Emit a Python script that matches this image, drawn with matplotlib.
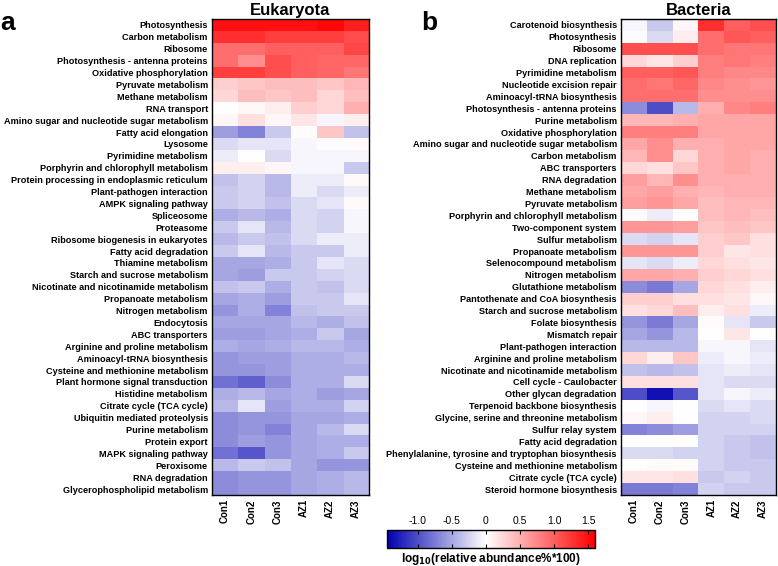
import numpy as np
import matplotlib
matplotlib.use("Agg")
import matplotlib.pyplot as plt
from matplotlib.colors import LinearSegmentedColormap

plt.rcParams['font.family'] = ['Liberation Sans', 'DejaVu Sans']

samples = ["Con1", "Con2", "Con3", "AZ1", "AZ2", "AZ3"]

euk_pathways = [
    "Photosynthesis", "Carbon metabolism", "Ribosome",
    "Photosynthesis - antenna proteins", "Oxidative phosphorylation",
    "Pyruvate metabolism", "Methane metabolism", "RNA transport",
    "Amino sugar and nucleotide sugar metabolism", "Fatty acid elongation",
    "Lysosome", "Pyrimidine metabolism", "Porphyrin and chlorophyll metabolism",
    "Protein processing in endoplasmic reticulum", "Plant-pathogen interaction",
    "AMPK signaling pathway", "Spliceosome", "Proteasome",
    "Ribosome biogenesis in eukaryotes", "Fatty acid degradation",
    "Thiamine metabolism", "Starch and sucrose metabolism",
    "Nicotinate and nicotinamide metabolism", "Propanoate metabolism",
    "Nitrogen metabolism", "Endocytosis", "ABC transporters",
    "Arginine and proline metabolism", "Aminoacyl-tRNA biosynthesis",
    "Cysteine and methionine metabolism", "Plant hormone signal transduction",
    "Histidine metabolism", "Citrate cycle (TCA cycle)",
    "Ubiquitin mediated proteolysis", "Purine metabolism", "Protein export",
    "MAPK signaling pathway", "Peroxisome", "RNA degradation",
    "Glycerophospholipid metabolism",
]

# log10(relative abundance%*100), columns Con1..AZ3
euk_values = [
    [1.50, 1.50, 1.50, 1.50, 1.55, 1.40],
    [1.30, 1.30, 1.20, 1.20, 1.20, 1.12],
    [0.90, 0.90, 1.00, 1.00, 1.00, 1.15],
    [0.90, 0.70, 1.10, 1.00, 0.95, 0.95],
    [1.20, 1.20, 1.10, 1.00, 0.95, 0.85],
    [0.30, 0.35, 0.40, 0.40, 0.35, 0.45],
    [0.25, 0.40, 0.35, 0.40, 0.25, 0.40],
    [0.00, 0.05, 0.10, 0.30, 0.25, 0.50],
    [0.05, 0.20, 0.05, 0.15, -0.05, 0.10],
    [-0.55, -0.70, -0.30, 0.02, 0.35, -0.35],
    [-0.20, -0.15, -0.15, -0.05, -0.02, 0.02],
    [-0.10, 0.00, -0.20, -0.05, -0.05, -0.05],
    [0.10, 0.10, 0.05, -0.05, -0.05, -0.30],
    [-0.35, -0.25, -0.40, -0.10, -0.10, 0.03],
    [-0.30, -0.25, -0.40, -0.10, -0.20, -0.10],
    [-0.30, -0.25, -0.35, -0.20, -0.15, 0.03],
    [-0.45, -0.40, -0.45, -0.20, -0.25, -0.05],
    [-0.30, -0.15, -0.40, -0.20, -0.25, -0.05],
    [-0.40, -0.30, -0.35, -0.20, -0.10, -0.10],
    [-0.30, -0.15, -0.40, -0.30, -0.30, -0.10],
    [-0.50, -0.50, -0.45, -0.30, -0.15, -0.20],
    [-0.50, -0.55, -0.30, -0.30, -0.25, -0.20],
    [-0.35, -0.30, -0.45, -0.30, -0.35, -0.20],
    [-0.50, -0.45, -0.55, -0.30, -0.30, -0.15],
    [-0.60, -0.45, -0.70, -0.35, -0.30, -0.30],
    [-0.50, -0.50, -0.50, -0.40, -0.45, -0.35],
    [-0.55, -0.55, -0.50, -0.45, -0.30, -0.50],
    [-0.45, -0.50, -0.45, -0.40, -0.40, -0.45],
    [-0.60, -0.55, -0.55, -0.45, -0.45, -0.40],
    [-0.60, -0.60, -0.55, -0.45, -0.45, -0.45],
    [-0.80, -0.90, -0.65, -0.45, -0.45, -0.20],
    [-0.45, -0.40, -0.50, -0.45, -0.55, -0.50],
    [-0.40, -0.15, -0.55, -0.45, -0.45, -0.25],
    [-0.65, -0.60, -0.60, -0.50, -0.50, -0.45],
    [-0.65, -0.60, -0.70, -0.50, -0.40, -0.20],
    [-0.65, -0.55, -0.60, -0.50, -0.45, -0.45],
    [-0.80, -0.95, -0.60, -0.50, -0.45, -0.30],
    [-0.40, -0.30, -0.35, -0.50, -0.60, -0.60],
    [-0.65, -0.60, -0.60, -0.50, -0.45, -0.40],
    [-0.65, -0.60, -0.60, -0.50, -0.45, -0.40],
]

bac_pathways = [
    "Carotenoid biosynthesis", "Photosynthesis", "Ribosome", "DNA replication",
    "Pyrimidine metabolism", "Nucleotide excision repair",
    "Aminoacyl-tRNA biosynthesis", "Photosynthesis - antenna proteins",
    "Purine metabolism", "Oxidative phosphorylation",
    "Amino sugar and nucleotide sugar metabolism", "Carbon metabolism",
    "ABC transporters", "RNA degradation", "Methane metabolism",
    "Pyruvate metabolism", "Porphyrin and chlorophyll metabolism",
    "Two-component system", "Sulfur metabolism", "Propanoate metabolism",
    "Selenocompound metabolism", "Nitrogen metabolism",
    "Glutathione metabolism", "Pantothenate and CoA biosynthesis",
    "Starch and sucrose metabolism", "Folate biosynthesis", "Mismatch repair",
    "Plant-pathogen interaction", "Arginine and proline metabolism",
    "Nicotinate and nicotinamide metabolism", "Cell cycle - Caulobacter",
    "Other glycan degradation", "Terpenoid backbone biosynthesis",
    "Glycine, serine and threonine metabolism", "Sulfur relay system",
    "Fatty acid degradation",
    "Phenylalanine, tyrosine and tryptophan biosynthesis",
    "Cysteine and methionine metabolism", "Citrate cycle (TCA cycle)",
    "Steroid hormone biosynthesis",
]

bac_values = [
    [-0.05, -0.30, 0.05, 1.30, 1.00, 1.10],
    [-0.02, -0.20, 0.10, 0.90, 1.05, 1.00],
    [1.10, 1.10, 1.10, 0.90, 0.85, 0.85],
    [0.25, 0.15, 0.30, 0.80, 0.85, 0.80],
    [1.00, 1.00, 1.05, 0.80, 0.75, 0.75],
    [0.90, 0.85, 0.95, 0.75, 0.70, 0.65],
    [0.90, 0.90, 0.90, 0.70, 0.70, 0.70],
    [-0.65, -1.00, -0.40, 0.50, 0.75, 0.80],
    [0.45, 0.45, 0.50, 0.55, 0.55, 0.55],
    [0.80, 0.80, 0.80, 0.55, 0.55, 0.55],
    [0.55, 0.70, 0.50, 0.50, 0.55, 0.55],
    [0.45, 0.70, 0.25, 0.50, 0.55, 0.50],
    [0.25, 0.20, 0.35, 0.50, 0.55, 0.50],
    [0.60, 0.45, 0.70, 0.50, 0.50, 0.50],
    [0.55, 0.60, 0.50, 0.45, 0.50, 0.50],
    [0.60, 0.65, 0.55, 0.40, 0.45, 0.45],
    [-0.02, -0.10, 0.00, 0.40, 0.45, 0.40],
    [0.65, 0.65, 0.60, 0.35, 0.40, 0.35],
    [-0.20, -0.25, -0.15, 0.30, 0.35, 0.20],
    [0.65, 0.65, 0.65, 0.30, 0.15, 0.20],
    [-0.15, -0.20, -0.10, 0.25, 0.20, 0.15],
    [0.55, 0.55, 0.50, 0.30, 0.25, 0.20],
    [-0.65, -0.75, -0.50, 0.25, 0.20, 0.10],
    [0.30, 0.30, 0.20, 0.20, 0.15, 0.05],
    [0.20, 0.25, 0.40, 0.10, 0.20, -0.10],
    [-0.60, -0.75, -0.50, 0.02, -0.15, -0.30],
    [-0.50, -0.60, -0.40, 0.00, 0.15, 0.00],
    [-0.40, -0.40, -0.40, -0.05, -0.05, -0.15],
    [0.25, 0.10, 0.35, -0.10, -0.05, -0.10],
    [-0.35, -0.40, -0.35, -0.15, -0.10, -0.15],
    [0.20, 0.20, 0.20, -0.15, -0.20, -0.20],
    [-1.00, -1.35, -0.95, -0.15, -0.05, -0.10],
    [0.00, -0.05, 0.00, -0.20, -0.15, -0.20],
    [0.05, 0.10, 0.00, -0.25, -0.25, -0.20],
    [-0.70, -0.65, -0.55, -0.25, -0.25, -0.25],
    [0.00, 0.00, 0.00, -0.25, -0.30, -0.35],
    [-0.20, -0.20, -0.25, -0.25, -0.30, -0.35],
    [0.00, 0.02, 0.02, -0.25, -0.30, -0.30],
    [0.15, 0.15, 0.20, -0.30, -0.25, -0.30],
    [-0.75, -0.75, -0.70, -0.25, -0.30, -0.30],
]

cbar_ticks = [-1.0, -0.5, 0, 0.5, 1.0, 1.5]
cbar_ticklabels = ["-1.0", "-0.5", "0", "0.5", "1.0", "1.5"]
vmin, vmax = -1.45, 1.6

cmap = LinearSegmentedColormap.from_list(
    "bwr_prism", [(0.0, "#0000b0"), (1.45 / 3.05, "#ffffff"), (1.0, "#ff0000")])

fig = plt.figure(figsize=(7.78, 5.66), dpi=100)
W, H = 778.0, 566.0


def draw_heatmap(rect, values, rows, title):
    ax = fig.add_axes(rect)
    im = ax.imshow(np.array(values), cmap=cmap, vmin=vmin, vmax=vmax,
                   aspect='auto', interpolation='nearest')
    ax.set_yticks(range(len(rows)))
    ax.set_yticklabels(rows, fontsize=6.6, fontweight='bold')
    ax.set_xticks(range(len(samples)))
    ax.set_xticklabels(samples, rotation=90, fontsize=7, fontweight='bold')
    ax.tick_params(length=0, pad=3)
    for s in ax.spines.values():
        s.set_linewidth(1.0)
    ax.set_title(title, fontsize=12, fontweight='bold', pad=3)
    return im


im = draw_heatmap([212 / W, 1 - 495 / H, 157 / W, 476 / H],
                  euk_values, euk_pathways, "Eukaryota")
draw_heatmap([621 / W, 1 - 495 / H, 155 / W, 476 / H],
             bac_values, bac_pathways, "Bacteria")

fig.text(0 / W, 1 - 30 / H, "a", fontsize=19, fontweight='bold')
fig.text(421 / W, 1 - 30 / H, "b", fontsize=19, fontweight='bold')

cax = fig.add_axes([387 / W, 1 - 548 / H, 208 / W, 18 / H])
cb = fig.colorbar(im, cax=cax, orientation='horizontal', ticks=cbar_ticks)
cb.ax.set_xticklabels(cbar_ticklabels)
cb.ax.xaxis.set_ticks_position('both')
cb.ax.xaxis.set_label_position('bottom')
cb.ax.tick_params(axis='x', direction='in', length=3, width=0.8,
                  labeltop=True, labelbottom=False, labelsize=7.5, pad=3)
cb.outline.set_linewidth(1.0)
cb.set_label(r"log$_{\mathbf{10}}$(relative abundance%*100)", fontsize=8.5,
             fontweight='bold', labelpad=2)

fig.savefig("out.png", dpi=100)
